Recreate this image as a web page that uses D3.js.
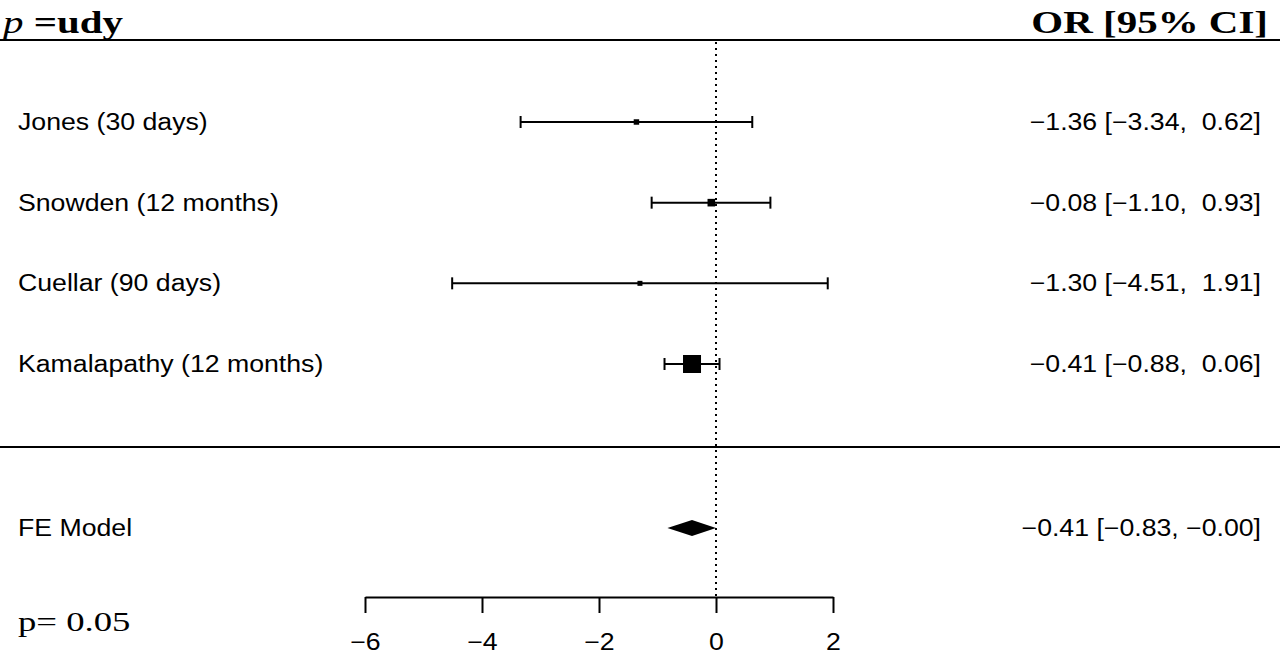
<!DOCTYPE html>
<html><head><meta charset="utf-8">
<script src="https://cdn.jsdelivr.net/npm/d3@7"></script>
<style>html,body{margin:0;padding:0;background:#fff;} svg{display:block;}</style>
</head><body>
<svg id="c" width="1280" height="657"></svg>
<script>
const studies = ["Jones (30 days)", "Snowden (12 months)", "Cuellar (90 days)", "Kamalapathy (12 months)"];
const estimates = [-1.36, -0.08, -1.30, -0.41];
const lower = [-3.34, -1.10, -4.51, -0.88];
const upper = [0.62, 0.93, 1.91, 0.06];
const weights = [0.98, 3.77, 0.37, 17.4];
const summaryLabel = "FE Model";
const summary = {est: -0.41, lb: -0.83, ub: -0.00};
const xTicks = [-6, -4, -2, 0, 2];
const headerLeft = ["p", " =udy"];
const headerRight = "OR [95% CI]";
const pText = "p= 0.05";

const svg = d3.select("#c");
const W = 1280;
const fmt = v => (v < 0 ? "\u2212" : "") + Math.abs(v).toFixed(2);
const fmtZ = v => (v <= 0 ? "\u2212" : "") + Math.abs(v).toFixed(2);
const pad = s => (s.startsWith("\u2212") ? s : " " + s);

const x = d3.scaleLinear().domain([-6, 2]).range([365, 833]);
const rowY = d3.scalePoint().domain(studies).range([122, 364]);
const sumY = 528;
const axisY = 597;
const sizeS = d3.scaleLinear().domain(d3.extent(weights)).range([5, 18]);

const SANS = "'Liberation Sans', Arial, sans-serif";
const SERIF = "'Liberation Serif', 'Times New Roman', serif";
const sxSans = 1.16, sxSerif = 1.28;

function txt(g, str, tx, ty, anchor, font, size, sx, weight) {
  return g.append("text").attr("transform", `translate(${tx},${ty}) scale(${sx},1)`)
    .attr("text-anchor", anchor).attr("font-family", font).attr("font-size", size)
    .attr("font-weight", weight || "normal").attr("fill", "#000")
    .style("white-space", "pre").text(str);
}

// header
const h1 = svg.append("text").attr("transform", `translate(3,33) scale(${sxSerif},1)`)
  .attr("font-family", SERIF).attr("font-size", 32).attr("fill", "#000").style("white-space","pre");
h1.append("tspan").attr("font-style", "italic").text(headerLeft[0]);
h1.append("tspan").attr("font-weight", "bold").text(headerLeft[1]);
txt(svg, headerRight, 1268, 33, "end", SERIF, 32, sxSerif, "bold");
svg.append("line").attr("x1", 0).attr("x2", W).attr("y1", 40).attr("y2", 40).attr("stroke", "#000").attr("stroke-width", 2);
svg.append("line").attr("x1", 0).attr("x2", W).attr("y1", 447).attr("y2", 447).attr("stroke", "#000").attr("stroke-width", 2);

// reference line
svg.append("line").attr("x1", x(0)).attr("x2", x(0)).attr("y1", 42).attr("y2", axisY)
  .attr("stroke", "#000").attr("stroke-width", 2).attr("stroke-dasharray", "2,4");

// study rows
studies.forEach((s, i) => {
  const y = rowY(s);
  txt(svg, s, 18, y + 8, "start", SANS, 23, sxSans);
  txt(svg, `${fmt(estimates[i])} [${fmt(lower[i])}, ${pad(fmt(upper[i]))}]`, 1261, y + 8, "end", SANS, 23, sxSans);
  svg.append("line").attr("x1", x(lower[i])).attr("x2", x(upper[i])).attr("y1", y).attr("y2", y).attr("stroke", "#000").attr("stroke-width", 2);
  [lower[i], upper[i]].forEach(v => svg.append("line").attr("x1", x(v)).attr("x2", x(v)).attr("y1", y - 6).attr("y2", y + 6).attr("stroke", "#000").attr("stroke-width", 2));
  const sz = sizeS(weights[i]);
  svg.append("rect").attr("x", x(estimates[i]) - sz / 2).attr("y", y - sz / 2).attr("width", sz).attr("height", sz).attr("fill", "#000");
});

// summary
txt(svg, summaryLabel, 18, sumY + 8, "start", SANS, 23, sxSans);
txt(svg, `${fmt(summary.est)} [${fmt(summary.lb)}, ${fmtZ(summary.ub)}]`, 1261, sumY + 8, "end", SANS, 23, sxSans);
svg.append("path").attr("d", d3.line()([[x(summary.lb), sumY], [x(summary.est), sumY - 8], [x(summary.ub), sumY], [x(summary.est), sumY + 8]]) + "Z").attr("fill", "#000");

// axis
const ax = svg.append("g").attr("transform", `translate(0,${axisY})`)
  .call(d3.axisBottom(x).tickValues(xTicks).tickSize(16).tickSizeOuter(0).tickFormat(d => (d < 0 ? "\u2212" : "") + Math.abs(d)));
ax.select(".domain").attr("stroke-width", 2);
ax.selectAll(".tick line").attr("stroke-width", 2);
ax.selectAll(".tick text").attr("font-family", SANS).attr("font-size", 23).attr("fill", "#000")
  .attr("y", 0).attr("dy", 0).attr("transform", `translate(0,53) scale(${sxSans},1)`);

txt(svg, pText, 18, 631, "start", SERIF, 27, 1.36);
</script>
</body></html>
